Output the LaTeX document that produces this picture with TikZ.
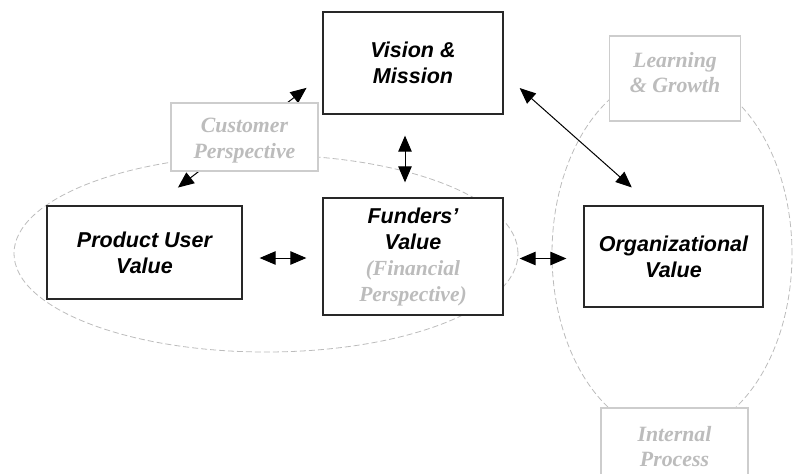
\documentclass[tikz,border=0pt]{standalone}
\usepackage{fontspec}
\setmainfont{Liberation Serif}
\setsansfont{Liberation Sans}
\usetikzlibrary{arrows.meta,backgrounds}
\definecolor{lightgr}{RGB}{188,188,188}
\definecolor{boxgr}{RGB}{205,205,205}
\definecolor{darkline}{RGB}{40,40,40}
\tikzset{bihead/.tip={Triangle[length=16pt,width=13.5pt]}}
\begin{document}
\begin{tikzpicture}[x=1pt,y=-1pt,
  mainbox/.style={draw=darkline, line width=1.3pt, fill=white, align=center, inner sep=0pt,
    font=\sffamily\bfseries\itshape\fontsize{21.5}{26}\selectfont},
  graybox/.style={draw=boxgr, line width=1.1pt, fill=white, inner sep=0pt},
  graytext/.style={text=lightgr, align=center, inner sep=0pt,
    font=\rmfamily\bfseries\itshape\fontsize{21.8}{25.5}\selectfont},
  dashell/.style={draw=lightgr, dash pattern=on 6pt off 3pt, line width=0.8pt},
  biarrow/.style={bihead-bihead, line width=1pt, black}]
\useasboundingbox (0,0) rectangle (796,474);

% boxes
\node[mainbox, minimum width=180pt, minimum height=102pt] (vision) at (413,63) {Vision \&\\Mission};
\node[graybox, minimum width=147pt, minimum height=68pt] (cust) at (244.5,137) {};
\node[graytext] (custtext) at (244.5,140.5) {Customer\\Perspective};
\node[mainbox, minimum width=195pt, minimum height=93pt] (prod) at (144.5,252.5) {Product User\\Value};
\node[mainbox, minimum width=180pt, minimum height=117pt] (fund) at (413,256.5)
  {Funders'\\Value\\{\color{lightgr}\rmfamily (Financial}\\{\color{lightgr}\rmfamily Perspective)}};
\node[mainbox, minimum width=179pt, minimum height=101pt] (org) at (673.5,256.5) {Organizational\\Value};
\node[graybox, minimum width=131pt, minimum height=85pt] (learn) at (675,78.5) {};
\node[graytext] (learntext) at (675,72.5) {Learning\\\& Growth};
\node[graybox, minimum width=147pt, minimum height=82pt] (internal) at (674.5,449) {};
\node[graytext] (internaltext) at (674.5,446.5) {Internal\\Process};

\begin{scope}[on background layer]
  \draw[dashell] (266,253.5) ellipse [x radius=252pt, y radius=98.5pt];
  \draw[dashell] (672,254) ellipse [x radius=120pt, y radius=181pt];
  \draw[biarrow, shorten <=29pt, shorten >=20pt] ([xshift=10.5pt]prod.north) -- ([yshift=-12.6pt]vision.west);
\end{scope}

\draw[biarrow, shorten <=21pt, shorten >=15pt] ([xshift=-8pt]vision.south) -- ([xshift=-8pt]fund.north);
\draw[biarrow, shorten <=21.4pt, shorten >=27pt] ([yshift=-10.8pt]vision.east) -- ([xshift=-21.5pt]org.north);
\draw[biarrow, shorten <=17pt, shorten >=16pt] ([yshift=-5.5pt]prod.east) -- ([yshift=-1.5pt]fund.west);
\draw[biarrow, shorten <=16pt, shorten >=17pt] ([yshift=-2pt]fund.east) -- ([yshift=-2pt]org.west);
\end{tikzpicture}
\end{document}
